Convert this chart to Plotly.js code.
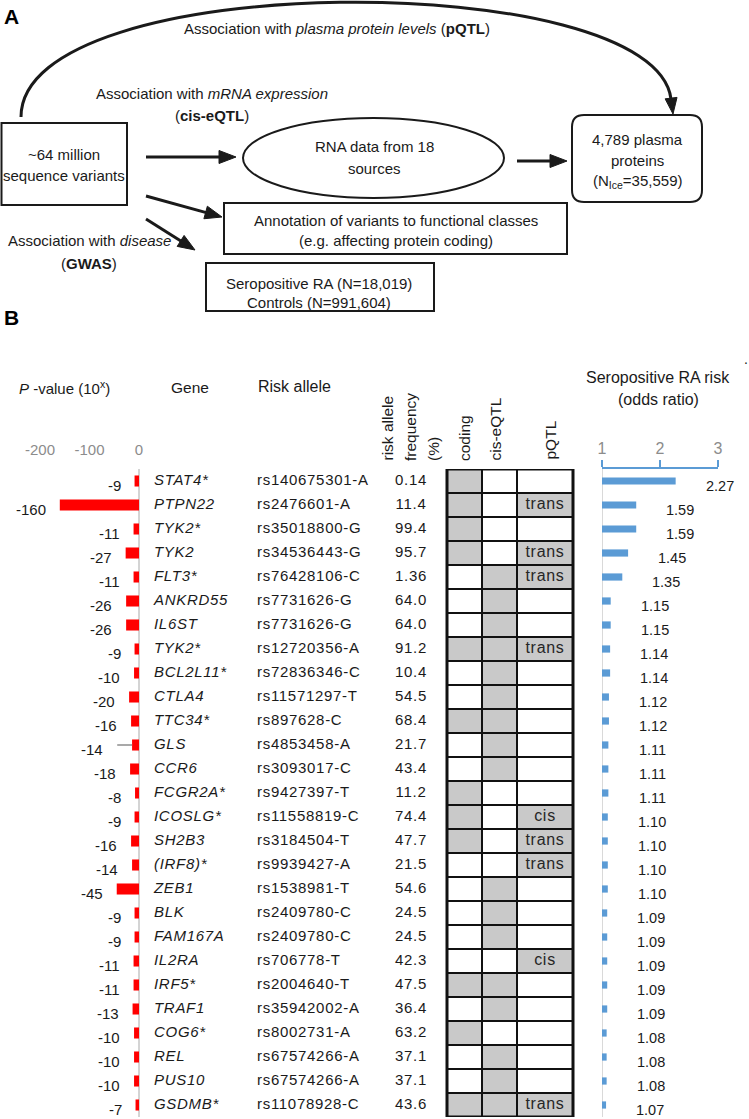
<!DOCTYPE html>
<html>
<head>
<meta charset="utf-8">
<script src="https://cdn.plot.ly/plotly-3.0.1.min.js"></script>
<style>
  html, body { margin: 0; padding: 0; background: #fff; }
  #chart { width: 749px; height: 1119px; }
  .textpoint text { letter-spacing: 0.7px; }
</style>
</head>
<body>
<div id="chart"></div>
<script>
// ---------------- DATA ----------------
const genes = ['STAT4*','PTPN22','TYK2*','TYK2','FLT3*','ANKRD55','IL6ST','TYK2*','BCL2L11*','CTLA4','TTC34*','GLS','CCR6','FCGR2A*','ICOSLG*','SH2B3','(IRF8)*','ZEB1','BLK','FAM167A','IL2RA','IRF5*','TRAF1','COG6*','REL','PUS10','GSDMB*'];
const riskAlleles = ['rs140675301-A','rs2476601-A','rs35018800-G','rs34536443-G','rs76428106-C','rs7731626-G','rs7731626-G','rs12720356-A','rs72836346-C','rs11571297-T','rs897628-C','rs4853458-A','rs3093017-C','rs9427397-T','rs11558819-C','rs3184504-T','rs9939427-A','rs1538981-T','rs2409780-C','rs2409780-C','rs706778-T','rs2004640-T','rs35942002-A','rs8002731-A','rs67574266-A','rs67574266-A','rs11078928-C'];
const riskFreq = ['0.14','11.4','99.4','95.7','1.36','64.0','64.0','91.2','10.4','54.5','68.4','21.7','43.4','11.2','74.4','47.7','21.5','54.6','24.5','24.5','42.3','47.5','36.4','63.2','37.1','37.1','43.6'];
const pExp = [-9,-160,-11,-27,-11,-26,-26,-9,-10,-20,-16,-14,-18,-8,-9,-16,-14,-45,-9,-9,-11,-11,-13,-10,-10,-10,-7];
const pErrMinus = [0,0,0,0,0,0,0,0,0,0,0,30,0,0,0,0,0,0,0,0,0,0,0,0,0,0,0];
const oddsRatio = [2.27,1.59,1.59,1.45,1.35,1.15,1.15,1.14,1.14,1.12,1.12,1.11,1.11,1.11,1.10,1.10,1.10,1.10,1.09,1.09,1.09,1.09,1.09,1.08,1.08,1.08,1.07];
const coding  = [1,1,1,1,0,0,0,1,0,0,1,0,0,1,1,1,0,0,0,0,0,1,0,1,0,0,1];
const cisEqtl = [0,0,0,0,1,1,1,1,1,1,1,1,1,0,0,0,0,1,1,1,0,1,1,0,1,1,1];
const pqtl    = ['','trans','','trans','trans','','','trans','','','','','','','cis','trans','trans','','','','cis','','','','','','trans'];
const leftTicks = [-200,-100,0];
const rightTicks = [1,2,3];

// ---------------- LAYOUT HELPERS ----------------
const W = 749, H = 1119;
const X = p => p / W;
const Y = p => 1 - p / H;
const F = 'Liberation Sans, Arial, sans-serif';
const INK = '#1a1a1a';
const rowIdx = genes.map((g, i) => i);

const ROW0 = 481, ROWH = 24;
const yTop = ROW0 - ROWH / 2;                    // 469
const yBot = ROW0 + (genes.length - 0.5) * ROWH; // 1117

const shapes = [];
const annotations = [];

function txt(text, cx, cy, o) {
  o = o || {};
  annotations.push({
    text: text, xref: 'paper', yref: 'paper', x: X(cx), y: Y(cy),
    xanchor: o.xanchor || 'center', yanchor: o.yanchor || 'middle',
    showarrow: false, textangle: o.angle || 0,
    font: {family: F, size: o.size || 15, color: o.color || INK},
    borderpad: 0
  });
}
function P(x, y) { return X(x) + ',' + Y(y); }
function rectPx(x0, y0, x1, y1, lw) {
  shapes.push({type: 'rect', xref: 'paper', yref: 'paper', x0: X(x0), x1: X(x1), y0: Y(y1), y1: Y(y0),
    line: {color: INK, width: lw || 2}, fillcolor: 'rgba(0,0,0,0)'});
}
function arrowHead(tx, ty, dx, dy, L, Wd) {
  const n = Math.hypot(dx, dy); dx /= n; dy /= n;
  const bx = tx - L * dx, by = ty - L * dy;
  const nx = -dy, ny = dx;
  shapes.push({type: 'path', xref: 'paper', yref: 'paper',
    path: 'M' + P(tx, ty) + ' L' + P(bx + Wd * nx, by + Wd * ny) + ' L' + P(bx - Wd * nx, by - Wd * ny) + ' Z',
    fillcolor: INK, line: {color: INK, width: 1}});
  return [bx, by];
}
function arrow(x0, y0, x1, y1) {
  const L = 17, Wd = 6.5;
  const b = arrowHead(x1, y1, x1 - x0, y1 - y0, L, Wd);
  shapes.push({type: 'line', xref: 'paper', yref: 'paper', x0: X(x0), y0: Y(y0),
    x1: X(b[0] + (x1 - x0) * 0.02), y1: Y(b[1] + (y1 - y0) * 0.02),
    line: {color: INK, width: 3}});
}

// ---------------- PANEL A ----------------
txt('<b>A</b>', 3, 17, {xanchor: 'left', size: 21, color: '#000'});
shapes.push({type: 'path', xref: 'paper', yref: 'paper',
  path: 'M' + P(21, 117) + ' C' + P(21, -33) + ' ' + P(655, -33) + ' ' + P(671, 99),
  line: {color: INK, width: 3}, fillcolor: 'rgba(0,0,0,0)'});
arrowHead(673, 114, 16, 132, 16, 6);
txt('Association with <i>plasma protein levels</i> (<b>pQTL</b>)', 337, 28);

rectPx(1.5, 123, 127, 205);
txt('~64 million', 64, 155);
txt('sequence variants', 64, 176);

txt('Association with <i>mRNA expression</i>', 212, 93);
txt('(<b>cis-eQTL</b>)', 212, 115);

arrow(146, 157, 236, 157);

shapes.push({type: 'circle', xref: 'paper', yref: 'paper', x0: X(243), x1: X(504), y0: Y(198), y1: Y(118),
  line: {color: INK, width: 2}, fillcolor: 'rgba(0,0,0,0)'});
txt('RNA data from 18', 374, 147);
txt('sources', 374, 168);

arrow(517, 161, 567, 161);

shapes.push({type: 'path', xref: 'paper', yref: 'paper',
  path: 'M' + P(584, 115) + ' L' + P(690, 115) + ' Q' + P(702, 115) + ' ' + P(702, 127) +
        ' L' + P(702, 190) + ' Q' + P(702, 202) + ' ' + P(690, 202) +
        ' L' + P(584, 202) + ' Q' + P(572, 202) + ' ' + P(572, 190) +
        ' L' + P(572, 127) + ' Q' + P(572, 115) + ' ' + P(584, 115) + ' Z',
  line: {color: INK, width: 2}, fillcolor: 'rgba(0,0,0,0)'});
txt('4,789 plasma', 637, 139);
txt('proteins', 637, 160);
txt('(N<sub>Ice</sub>=35,559)', 637, 181);

arrow(146, 196, 222, 217);
rectPx(224, 203, 567, 254);
txt('Annotation of variants to functional classes', 396, 220);
txt('(e.g. affecting protein coding)', 396, 241);

arrow(146, 219, 195, 250);
txt('Association with <i>disease</i>', 89, 241);
txt('(<b>GWAS</b>)', 89, 263);
rectPx(206, 263, 434, 311);
txt('Seropositive RA (N=18,019)', 319, 283);
txt('Controls (N=991,604)', 319, 303);

// ---------------- PANEL B headers ----------------
txt('<b>B</b>', 3, 318, {xanchor: 'left', size: 21, color: '#000'});
txt('<i>P</i> -value (10<sup>x</sup>)', 18, 388, {xanchor: 'left', size: 15});
txt('Gene', 190, 388, {size: 15.5});
txt('Risk allele', 257, 386, {xanchor: 'left', size: 16});
txt('risk allele', 387, 462, {angle: -90, yanchor: 'bottom', size: 15.5});
txt('frequency', 410, 462, {angle: -90, yanchor: 'bottom', size: 15.5});
txt('(%)', 433, 462, {angle: -90, yanchor: 'bottom', size: 15.5});
txt('coding', 464, 462, {angle: -90, yanchor: 'bottom', size: 15.5});
txt('cis-eQTL', 495, 462, {angle: -90, yanchor: 'bottom', size: 15.5});
txt('pQTL', 550, 461, {angle: -90, yanchor: 'bottom', size: 15.5});
txt('Seropositive RA risk', 658, 377, {size: 16});
txt('(odds ratio)', 658, 399, {size: 16});
txt('.', 746, 359, {size: 14});

// ---------------- grid of cells ----------------
const colEdges = [447, 482, 517, 573];
const GRAY = '#c9c9c9';
genes.forEach((g, i) => {
  const flags = [coding[i], cisEqtl[i], pqtl[i] ? 1 : 0];
  flags.forEach((f, c) => {
    shapes.push({type: 'rect', layer: 'below', xref: 'paper', yref: 'y',
      x0: X(colEdges[c]), x1: X(colEdges[c + 1]), y0: i - 0.5, y1: i + 0.5,
      fillcolor: f ? GRAY : '#ffffff', line: {color: '#111', width: 2}});
  });
});
shapes.push({type: 'rect', layer: 'below', xref: 'paper', yref: 'y',
  x0: X(colEdges[0]), x1: X(colEdges[3]), y0: -0.5, y1: genes.length - 0.5,
  fillcolor: 'rgba(0,0,0,0)', line: {color: '#111', width: 3}});

// right chart baseline (OR = 1)
shapes.push({type: 'line', layer: 'below', xref: 'x2', yref: 'paper', x0: 1, x1: 1, y0: Y(yBot), y1: Y(yTop),
  line: {color: '#d9d9d9', width: 2}});

// ---------------- bar labels ----------------
pExp.forEach((v, i) => {
  annotations.push({xref: 'x', yref: 'y', x: v - pErrMinus[i], y: i, text: String(v), showarrow: false,
    xanchor: 'right', yanchor: 'middle', xshift: -12, yshift: -4,
    font: {family: F, size: 15, color: INK}});
});
oddsRatio.forEach((v, i) => {
  annotations.push({xref: 'x2', yref: 'y', x: v, y: i, text: v.toFixed(2), showarrow: false,
    xanchor: 'center', yanchor: 'middle', xshift: 44, yshift: -5,
    font: {family: F, size: 14.5, color: INK}});
});

// pQTL labels only where present
const pqtlRows = rowIdx.filter(i => pqtl[i] !== '');

// ---------------- traces ----------------
const traces = [
  {type: 'bar', orientation: 'h', x: pExp, y: rowIdx, xaxis: 'x', yaxis: 'y', width: 0.46,
   marker: {color: '#ff0000', line: {width: 0}},
   error_x: {type: 'data', symmetric: false, array: pExp.map(() => 0), arrayminus: pErrMinus,
             color: '#a9a9a9', thickness: 2, width: 0},
   hoverinfo: 'skip'},
  {type: 'bar', orientation: 'h', x: oddsRatio.map(v => v - 1), base: 1, y: rowIdx, xaxis: 'x2', yaxis: 'y', width: 0.3,
   marker: {color: '#5b9bd5', line: {width: 0}}, hoverinfo: 'skip'},
  {type: 'scatter', mode: 'text', x: genes.map(() => 154), y: rowIdx, text: genes, textposition: 'middle right',
   xaxis: 'x3', yaxis: 'y', textfont: {family: F, size: 15, color: INK, style: 'italic'}, hoverinfo: 'skip', cliponaxis: false},
  {type: 'scatter', mode: 'text', x: riskAlleles.map(() => 257), y: rowIdx, text: riskAlleles, textposition: 'middle right',
   xaxis: 'x3', yaxis: 'y', textfont: {family: F, size: 15, color: INK}, hoverinfo: 'skip', cliponaxis: false},
  {type: 'scatter', mode: 'text', x: riskFreq.map(() => 411), y: rowIdx, text: riskFreq, textposition: 'middle center',
   xaxis: 'x3', yaxis: 'y', textfont: {family: F, size: 15, color: INK}, hoverinfo: 'skip', cliponaxis: false},
  {type: 'scatter', mode: 'text', x: pqtlRows.map(() => 545), y: pqtlRows, text: pqtlRows.map(i => pqtl[i]),
   textposition: 'middle center', xaxis: 'x3', yaxis: 'y',
   textfont: {family: F, size: 16, color: '#262626'}, hoverinfo: 'skip', cliponaxis: false}
];

const layout = {
  width: W, height: H,
  margin: {l: 0, r: 0, t: 0, b: 0, pad: 0},
  paper_bgcolor: '#ffffff', plot_bgcolor: 'rgba(0,0,0,0)',
  showlegend: false,
  font: {family: F, color: INK},
  yaxis: {domain: [Y(yBot), Y(yTop)], range: [genes.length - 0.5, -0.5], visible: false, fixedrange: true},
  xaxis: {domain: [X(20), X(146)], range: [(20 - 139) / 0.495, (146 - 139) / 0.495], anchor: 'y', side: 'top',
          tickmode: 'array', tickvals: leftTicks, ticktext: leftTicks.map(String), ticks: '',
          showgrid: false, showline: false, zeroline: true, zerolinecolor: '#d4d4d4', zerolinewidth: 2,
          tickfont: {family: F, size: 15, color: '#8c8c8c'}, ticklabelstandoff: 10, fixedrange: true},
  xaxis2: {domain: [X(602), X(718)], range: [1, 3], anchor: 'y', side: 'top',
           tickmode: 'array', tickvals: rightTicks, ticktext: rightTicks.map(String),
           ticks: 'outside', ticklen: 7, tickwidth: 2, tickcolor: '#5b9bd5',
           showline: true, linecolor: '#5b9bd5', linewidth: 2, showgrid: false, zeroline: false,
           tickfont: {family: F, size: 16, color: '#8c8c8c'}, ticklabelstandoff: 0, fixedrange: true},
  xaxis3: {domain: [0, 1], range: [0, W], anchor: 'y', visible: false, fixedrange: true},
  shapes: shapes,
  annotations: annotations
};

Plotly.newPlot('chart', traces, layout, {staticPlot: true, displayModeBar: false});
</script>
</body>
</html>
